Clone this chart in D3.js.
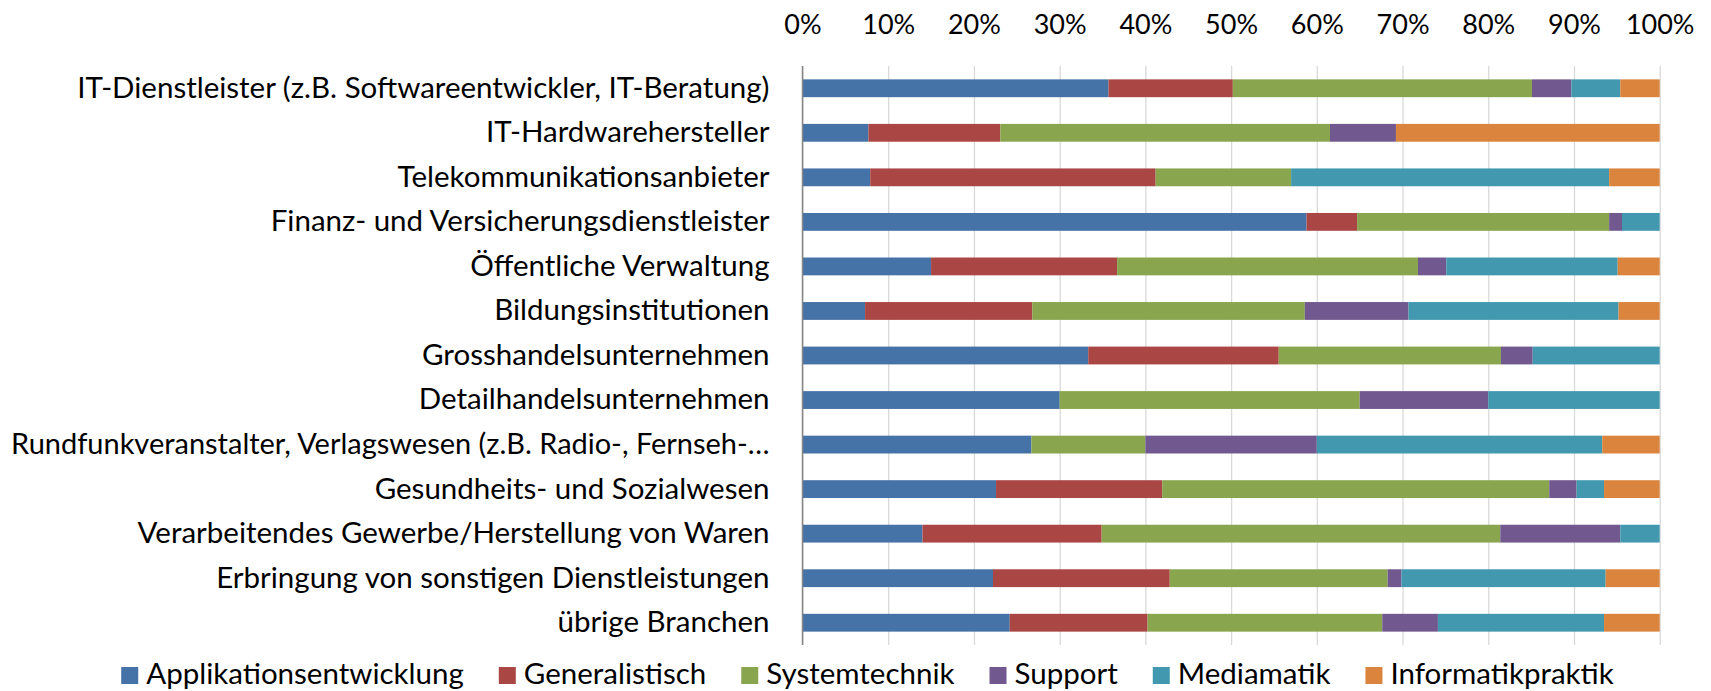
<!DOCTYPE html>
<html>
<head>
<meta charset="utf-8">
<script src="https://cdn.jsdelivr.net/npm/d3@7"></script>
<style>
  body { margin: 0; background: #fff; }
  text { font-family: Lato, "Open Sans", sans-serif; fill: #000; }
</style>
</head>
<body>
<div id="chart"></div>
<script>
// categories, top to bottom
const categories = [
  "IT-Dienstleister (z.B. Softwareentwickler, IT-Beratung)",
  "IT-Hardwarehersteller",
  "Telekommunikationsanbieter",
  "Finanz- und Versicherungsdienstleister",
  "Öffentliche Verwaltung",
  "Bildungsinstitutionen",
  "Grosshandelsunternehmen",
  "Detailhandelsunternehmen",
  "Rundfunkveranstalter, Verlagswesen (z.B. Radio-, Fernseh-…",
  "Gesundheits- und Sozialwesen",
  "Verarbeitendes Gewerbe/Herstellung von Waren",
  "Erbringung von sonstigen Dienstleistungen",
  "übrige Branchen"
];

// share per series (in %)
const applikationsentwicklung = [35.7, 7.7, 7.9, 58.8, 15.0, 7.3, 33.3, 30.0, 26.7, 22.6, 14.0, 22.2, 24.2];
const generalistisch          = [14.5, 15.4, 33.3, 5.9, 21.7, 19.5, 22.2, 0, 0, 19.4, 20.9, 20.6, 16.1];
const systemtechnik           = [34.9, 38.5, 15.8, 29.4, 35.1, 31.8, 25.9, 35.0, 13.3, 45.2, 46.5, 25.4, 27.4];
const support                 = [4.6, 7.7, 0, 1.5, 3.3, 12.1, 3.7, 15.0, 20.0, 3.2, 14.0, 1.6, 6.5];
const mediamatik              = [5.7, 0, 37.1, 4.4, 20.0, 24.5, 14.8, 20.0, 33.3, 3.2, 4.6, 23.8, 19.4];
const informatikpraktik       = [4.6, 30.8, 5.9, 0, 4.9, 4.8, 0, 0, 6.7, 6.5, 0, 6.3, 6.5];

const seriesNames = ["Applikationsentwicklung", "Generalistisch", "Systemtechnik", "Support", "Mediamatik", "Informatikpraktik"];
const seriesValues = [applikationsentwicklung, generalistisch, systemtechnik, support, mediamatik, informatikpraktik];
const colors = ["#4572A7", "#AA4643", "#89A54E", "#71588F", "#4198AF", "#DB843D"];

const width = 1711, height = 691;
const plot = { left: 802.5, right: 1659.7, top: 66, bottom: 645 };
const labelSize = 29.5, tickSize = 27;
const labelPad = 33, labelMinX = 11;

const svg = d3.select("#chart").append("svg")
  .attr("width", width)
  .attr("height", height);

// rows for d3.stack
const rows = categories.map((c, i) => {
  const r = { category: c };
  seriesNames.forEach((s, j) => r[s] = seriesValues[j][i]);
  return r;
});

const stacked = d3.stack()
  .keys(seriesNames)
  .offset(d3.stackOffsetExpand)(rows);

const x = d3.scaleLinear().domain([0, 1]).range([plot.left, plot.right]);
const y = d3.scaleBand().domain(categories).range([plot.top, plot.bottom]).paddingInner(0.6).paddingOuter(0.3);

// gridlines
svg.append("g")
  .attr("transform", `translate(0,${plot.top})`)
  .call(d3.axisBottom(x).ticks(10).tickSize(plot.bottom - plot.top).tickFormat(""))
  .call(g => g.select(".domain").remove())
  .call(g => g.selectAll("line").attr("stroke", "#D9D9D9").attr("stroke-width", 1.3));

// percent labels on top
svg.append("g")
  .attr("transform", `translate(0,${plot.top})`)
  .call(d3.axisTop(x).ticks(10).tickSize(0).tickPadding(32).tickFormat(d3.format(".0%")))
  .call(g => g.select(".domain").remove())
  .call(g => g.selectAll("text").style("font-size", tickSize + "px").style("font-family", "Lato"));

// bars
svg.append("g")
  .selectAll("g")
  .data(stacked)
  .join("g")
  .attr("fill", (d, i) => colors[i])
  .selectAll("rect")
  .data(d => d)
  .join("rect")
  .attr("x", d => x(d[0]))
  .attr("y", d => y(d.data.category))
  .attr("width", d => x(d[1]) - x(d[0]))
  .attr("height", y.bandwidth());

// category axis
svg.append("g")
  .attr("transform", `translate(${plot.left},0)`)
  .call(d3.axisLeft(y).tickSize(0).tickPadding(labelPad).tickSizeOuter(0))
  .call(g => g.select(".domain").attr("stroke", "#868686").attr("stroke-width", 1.5)
    .attr("d", `M0,${plot.top}V${plot.bottom}`))
  .call(g => g.selectAll("text").style("font-size", labelSize + "px").style("font-family", "Lato"))
  .call(g => g.selectAll("text").each(function () {
    // squeeze labels that would run off the left edge
    const room = plot.left - labelPad - labelMinX;
    const w = this.getComputedTextLength();
    if (w > room) d3.select(this).style("font-size", (labelSize * room / w) + "px");
  }));

// legend
const legend = svg.append("g").attr("transform", "translate(0,675.5)");
const items = legend.selectAll("g")
  .data(seriesNames)
  .join("g");
items.append("rect")
  .attr("y", -8.5)
  .attr("width", 17)
  .attr("height", 17)
  .attr("fill", (d, i) => colors[i]);
items.append("text")
  .attr("x", 25)
  .attr("dy", "0.3em")
  .style("font-size", labelSize + "px")
  .text(d => d);

let pos = 0;
const offsets = [];
items.each(function () {
  offsets.push(pos);
  pos += 25 + this.querySelector("text").getComputedTextLength() + 35;
});
const total = pos - 35;
const start = 867.5 - total / 2;
items.attr("transform", (d, i) => `translate(${start + offsets[i]},0)`);
</script>
</body>
</html>
